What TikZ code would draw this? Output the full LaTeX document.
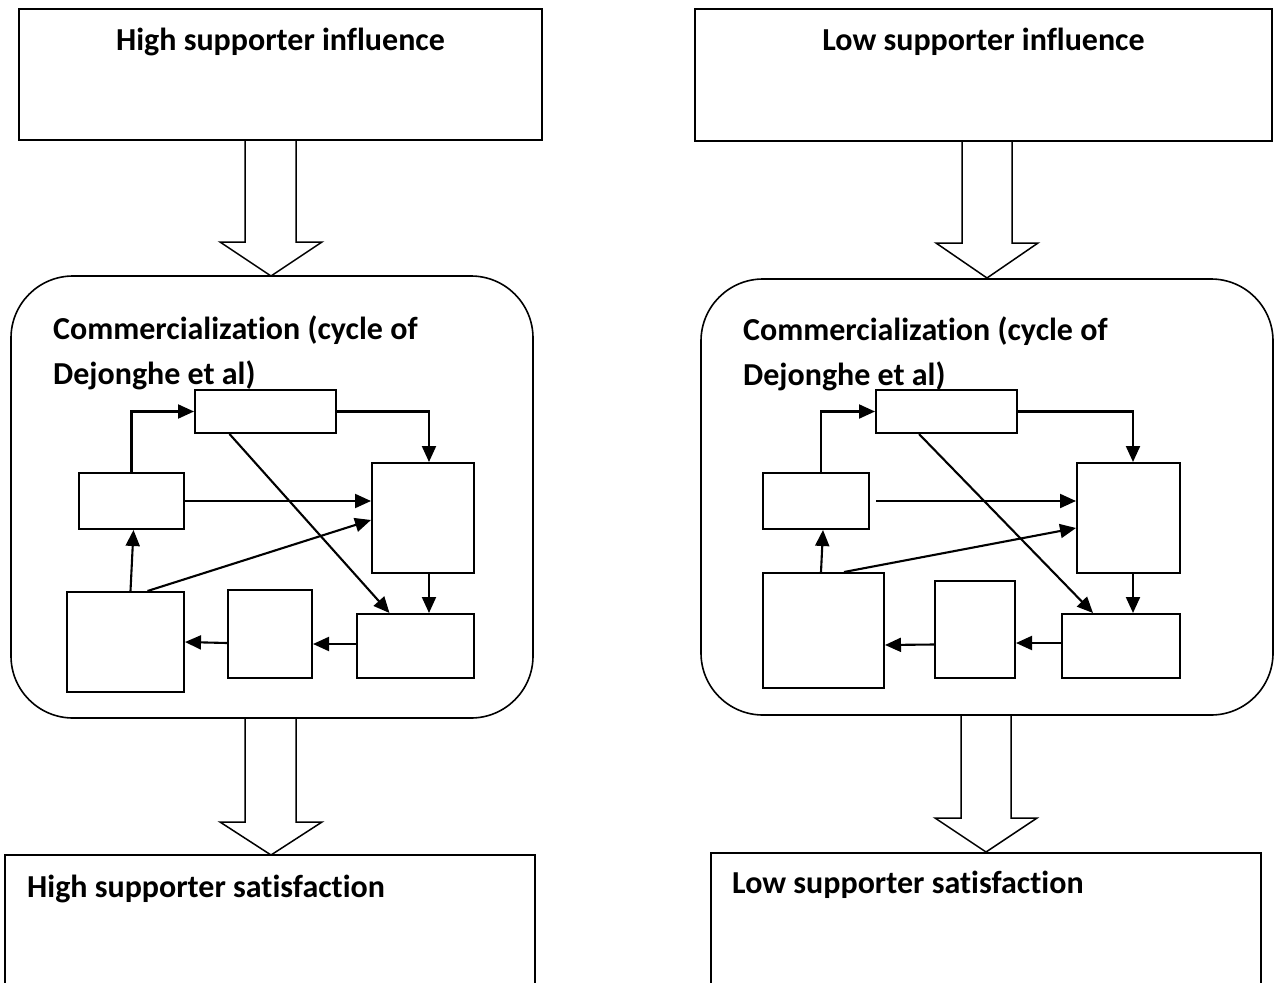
\documentclass[tikz,border=0pt]{standalone}
\usepackage{fontspec}
\setmainfont{Carlito}[Ligatures=NoCommon]
\usetikzlibrary{arrows.meta,calc}
\newcommand{\bx}[6]{\node[#6, minimum width={#4-#2}, minimum height={#5-#3}] (#1) at ({(#2+#4)/2},{(#3+#5)/2}) {};}
\newcommand{\blockarr}[8]{\draw[blk] (#1,#3) -- (#1,#4) -- (#5,#4) -- ({(#5+#6)/2},#7) -- (#6,#4) -- (#2,#4) -- (#2,#3) -- cycle;}
\begin{document}
\begin{tikzpicture}[x=1pt,y=-1pt,
  outer/.style={draw, line width=1.6pt, rectangle, inner sep=0pt, fill=white},
  inner/.style={draw, line width=2pt, rectangle, inner sep=0pt, fill=white},
  arr/.style={line width=2.1pt, -{Triangle[length=16pt,width=14pt]}},
  blk/.style={draw, line width=1.5pt, fill=white, line join=miter},
  txt/.style={inner sep=0pt, font=\fontsize{32}{38}\selectfont\bfseries}
]
\useasboundingbox (0,0) rectangle (1275,983);
\clip (0,0) rectangle (1275,983);
\fill[white] (0,0) rectangle (1275,983);

% ---------- left column ----------
\bx{topL}{19}{9}{542}{140}{outer}
\bx{comL}{11}{276}{533}{718}{outer, rounded corners=62pt}
\bx{botL}{5}{855}{535}{1000}{outer}
\blockarr{245}{296}{140}{242}{220}{322}{276}{}
\blockarr{245}{296}{718}{822}{220}{322}{855}{}

\node[txt, anchor=base] (tHL) at (280.5,50) {High supporter influence};
\node[txt, anchor=base west] (cL1) at (53,339) {Commercialization (cycle of};
\node[txt, anchor=base west] (cL2) at (53,384) {Dejonghe et al)};
\node[txt, anchor=base west] (sHL) at (27,897) {High supporter satisfaction};

\bx{AL}{195}{390}{336}{433}{inner}
\bx{BL}{372}{463}{474}{573}{inner}
\bx{CL}{79}{473}{184}{529}{inner}
\bx{DL}{357}{614}{474}{678}{inner}
\bx{EL}{228}{590}{312}{678}{inner}
\bx{FL}{67}{592}{184}{692}{inner}

\draw[arr] (CL.north) |- (AL.west);
\draw[arr] (AL.east) -| ($(BL.north)+(6,0)$);
\draw[arr] (CL.east) -- (CL.east -| BL.west);
\draw[arr] ($(AL.south)+(-36,0)$) -- ($(DL.north)+(-26,0)$);
\draw[arr] ($(FL.north)+(22,0)$) -- ($(BL.west)+(0,2)$);
\draw[arr] ($(FL.north)+(5,0)$) -- ($(CL.south)+(2,0)$);
\draw[arr] ($(BL.south)+(6,0)$) -- ($(DL.north)+(13.5,0)$);
\draw[arr] ($(DL.west)+(0,-2)$) -- ($(EL.east)+(0,10)$);
\draw[arr] ($(EL.west)+(0,9)$) -- (FL.east);

% ---------- right column ----------
\bx{topR}{695}{9}{1272}{141}{outer}
\bx{comR}{701}{279}{1273}{715}{outer, rounded corners=62pt}
\bx{botR}{711}{853}{1261}{1000}{outer}
\blockarr{962}{1012}{141}{243}{936}{1038}{278}{}
\blockarr{961}{1011}{715}{818}{935}{1037}{852}{}

\node[txt, anchor=base] (tLR) at (983.5,50) {Low supporter influence};
\node[txt, anchor=base west] (cR1) at (743,340) {Commercialization (cycle of};
\node[txt, anchor=base west] (cR2) at (743,385) {Dejonghe et al)};
\node[txt, anchor=base west] (sLR) at (732,893) {Low supporter satisfaction};

\bx{AR}{876}{390}{1017}{433}{inner}
\bx{BR}{1077}{463}{1180}{573}{inner}
\bx{CR}{763}{473}{869}{529}{inner}
\bx{DR}{1062}{614}{1180}{678}{inner}
\bx{ER}{935}{581}{1015}{678}{inner}
\bx{FR}{763}{573}{884}{688}{inner}

\draw[arr] ($(CR.north)+(5,0)$) |- (AR.west);
\draw[arr] (AR.east) -| ($(BR.north)+(4.5,0)$);
\draw[arr] ($(CR.east)+(6,0)$) -- (CR.east -| BR.west);
\draw[arr] ($(AR.south)+(-27.5,0)$) -- ($(DR.north)+(-28,0)$);
\draw[arr] ($(FR.north)+(20.5,0)$) -- ($(BR.west)+(0,10)$);
\draw[arr] ($(FR.north)+(-2.5,0)$) -- ($(CR.south)+(7,0)$);
\draw[arr] ($(BR.south)+(4.5,0)$) -- ($(DR.north)+(12,0)$);
\draw[arr] ($(DR.west)+(0,-3)$) -- ($(ER.east)+(0,13.5)$);
\draw[arr] ($(ER.west)+(0,15)$) -- ($(FR.east)+(0,14.5)$);
\end{tikzpicture}
\end{document}
